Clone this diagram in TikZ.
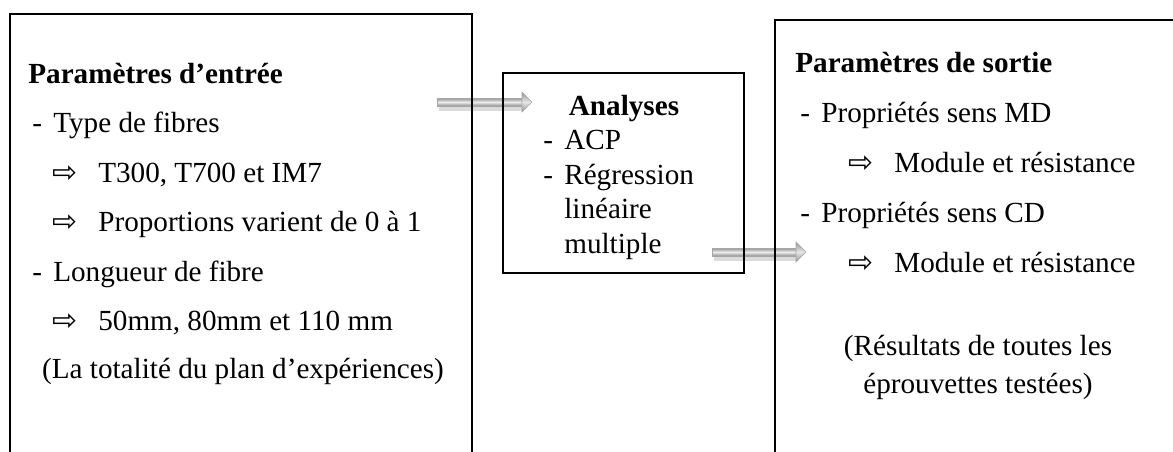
\documentclass[tikz,border=0pt]{standalone}
\usepackage{fontspec}
\setmainfont{Liberation Serif}
\newfontfamily\arrowfont{DejaVu Sans}
\usetikzlibrary{calc}
\newcommand{\dashmark}{\makebox[0.42cm][l]{-}}
\newcommand{\itemarrow}{\makebox[0.92cm][l]{\arrowfont\fontsize{17}{17}\selectfont ⇨}}
\newcommand{\tubearrow}[2]{%
    \fill[black, opacity=0.14] ($(#1)+(2,-1)$) rectangle ($(#2)+(-8,9)$);
    \shade[top color=gray!85, bottom color=gray!85, middle color=gray!15, draw=gray!70, line width=0.3pt] ($(#1)+(0,-4)$) rectangle ($(#2)+(-10,4)$);
    \shade[top color=gray!85, bottom color=gray!85, middle color=gray!20, draw=gray!70, line width=0.3pt] ($(#2)+(-10,-10)$) -- (#2) -- ($(#2)+(-10,10)$) -- cycle;
}
\tikzset{
    frame/.style={draw, rectangle, line width=1.1pt, inner sep=0pt},
    txt/.style={anchor=base west, inner sep=0pt, font=\fontsize{16.6}{19.9}\selectfont},
    ctxt/.style={anchor=base, inner sep=0pt, font=\fontsize{16.6}{19.9}\selectfont}
}

\begin{document}
\begin{tikzpicture}[x=0.02cm, y=-0.02cm]
        \useasboundingbox (0,0) rectangle (1173,451);
        \clip (0,0) rectangle (1173,451);

        % Arrow end points
        \coordinate (inarrow-s) at (437,102);
        \coordinate (inarrow-e) at (532,102);
        \coordinate (outarrow-s) at (712,252);
        \coordinate (outarrow-e) at (806,252);

        % Arrows
        \tubearrow{inarrow-s}{inarrow-e}
        \tubearrow{outarrow-s}{outarrow-e}

        % The three blocks
        \node [frame, minimum width=9.24cm, minimum height=9.6cm] (inbox) at (241,254) {};
        \node [frame, minimum width=4.82cm, minimum height=4cm] (anbox) at (623.5,173) {};
        \node [frame, minimum width=8.12cm, minimum height=9.6cm] (outbox) at (978,260) {};

        % Input parameters
        \node [txt] (intitle) at (28,83) {\textbf{Paramètres d’entrée}};
        \node [txt] (intype) at (32,132) {\dashmark Type de fibres};
        \node [txt] (infibre) at (52,182) {\itemarrow T300, T700 et IM7};
        \node [txt] (inprop) at (52,231) {\itemarrow Proportions varient de 0 à 1};
        \node [txt] (inlength) at (32,281) {\dashmark Longueur de fibre};
        \node [txt] (inmm) at (52,330) {\itemarrow 50mm, 80mm et 110 mm};
        \node [ctxt] (inplan) at (243,378) {(La totalité du plan d’expériences)};

        % Analyses
        \node [ctxt] (antitle) at (624,115) {\textbf{Analyses}};
        \node [txt] (anacp) at (543,149.5) {\dashmark ACP};
        \node [txt] (anreg) at (543,184) {\dashmark Régression};
        \node [txt] (anlin) at (564,218.5) {linéaire};
        \node [txt] (anmult) at (564,253) {multiple};

        % Output parameters
        \node [txt] (outtitle) at (795,72) {\textbf{Paramètres de sortie}};
        \node [txt] (outmd) at (800,122) {\dashmark Propriétés sens MD};
        \node [txt] (outmdval) at (848,172) {\itemarrow Module et résistance};
        \node [txt] (outcd) at (800,222) {\dashmark Propriétés sens CD};
        \node [txt] (outcdval) at (848,272) {\itemarrow Module et résistance};
        \node [ctxt] (outres) at (978,355) {(Résultats de toutes les};
        \node [ctxt] (outtests) at (978,393) {éprouvettes testées)};
    \end{tikzpicture}
\end{document}
